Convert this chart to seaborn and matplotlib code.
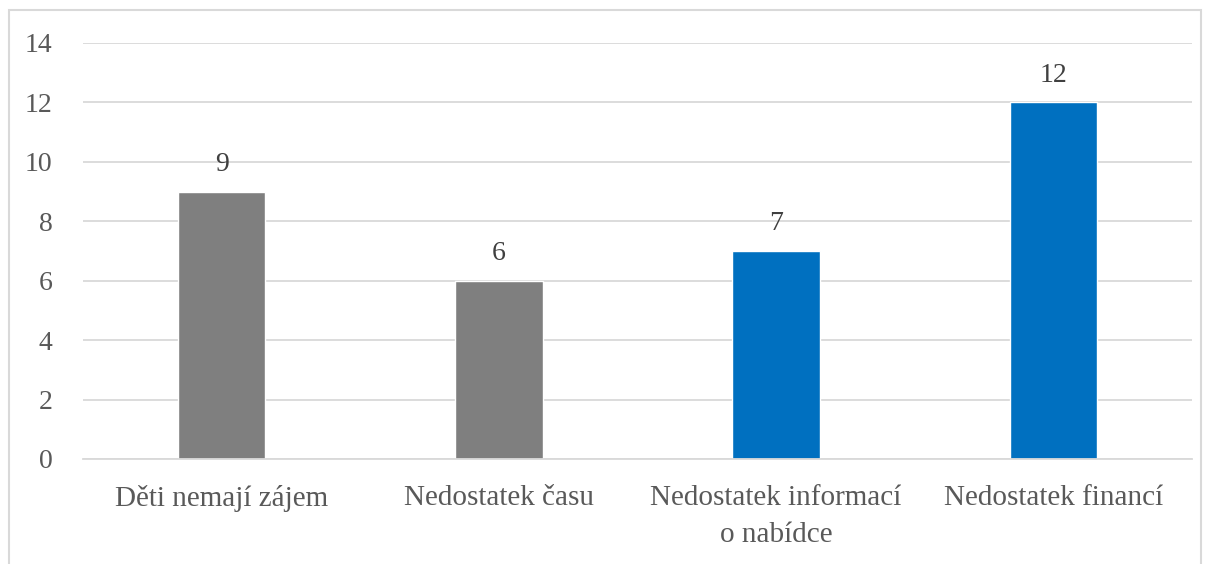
import numpy as np
import pandas as pd
import seaborn as sns
import matplotlib.pyplot as plt
from matplotlib.patches import Rectangle

# data
categories = ['Děti nemají zájem', 'Nedostatek času', 'Nedostatek informací\no nabídce', 'Nedostatek financí']
values = [9, 6, 7, 12]
groups = ['a', 'a', 'b', 'b']
yticks = [0, 2, 4, 6, 8, 10, 12, 14]

df = pd.DataFrame({'kategorie': categories, 'pocet': values, 'skupina': groups})

sns.set_style('white')
plt.rcParams['font.family'] = ['Liberation Serif', 'DejaVu Serif']

fig = plt.figure(figsize=(12.11, 5.64), dpi=100)
# outer chart frame
fig.patches.append(Rectangle((9 / 1211, -0.1), (1201 - 9) / 1211, 1.1 - 10 / 564,
                             transform=fig.transFigure, fill=False,
                             edgecolor='#D9D9D9', linewidth=1.5))
ax = fig.add_axes([83 / 1211, 1 - 459 / 564, (1192 - 83) / 1211, (459 - 43) / 564])

sns.barplot(data=df, x='kategorie', y='pocet', hue='skupina',
            palette={'a': '#7F7F7F', 'b': '#0070C0'}, dodge=False,
            width=0.315, legend=False, ax=ax, saturation=1)

for i, v in enumerate(values):
    ax.text(i, v + 0.5, str(v), ha='center', va='bottom', fontsize=20, color='#404040')

ax.set_xlim(-0.5, 3.5)
ax.set_ylim(0, 14)
ax.set_yticks(yticks)
ax.yaxis.grid(True, color='#D9D9D9', linewidth=1.3)
ax.set_axisbelow(True)
for s in ax.spines.values():
    s.set_visible(False)
ax.spines['bottom'].set_visible(True)
ax.spines['bottom'].set_color('#D9D9D9')
ax.spines['bottom'].set_linewidth(1.3)
ax.tick_params(axis='both', length=0, labelcolor='#595959')
ax.tick_params(axis='y', pad=22, labelsize=20)
ax.tick_params(axis='x', pad=19, labelsize=21)
for lbl in ax.get_xticklabels():
    lbl.set_linespacing(1.55)
ax.set_xlabel('')
ax.set_ylabel('')

fig.savefig('out.png', dpi=100)
